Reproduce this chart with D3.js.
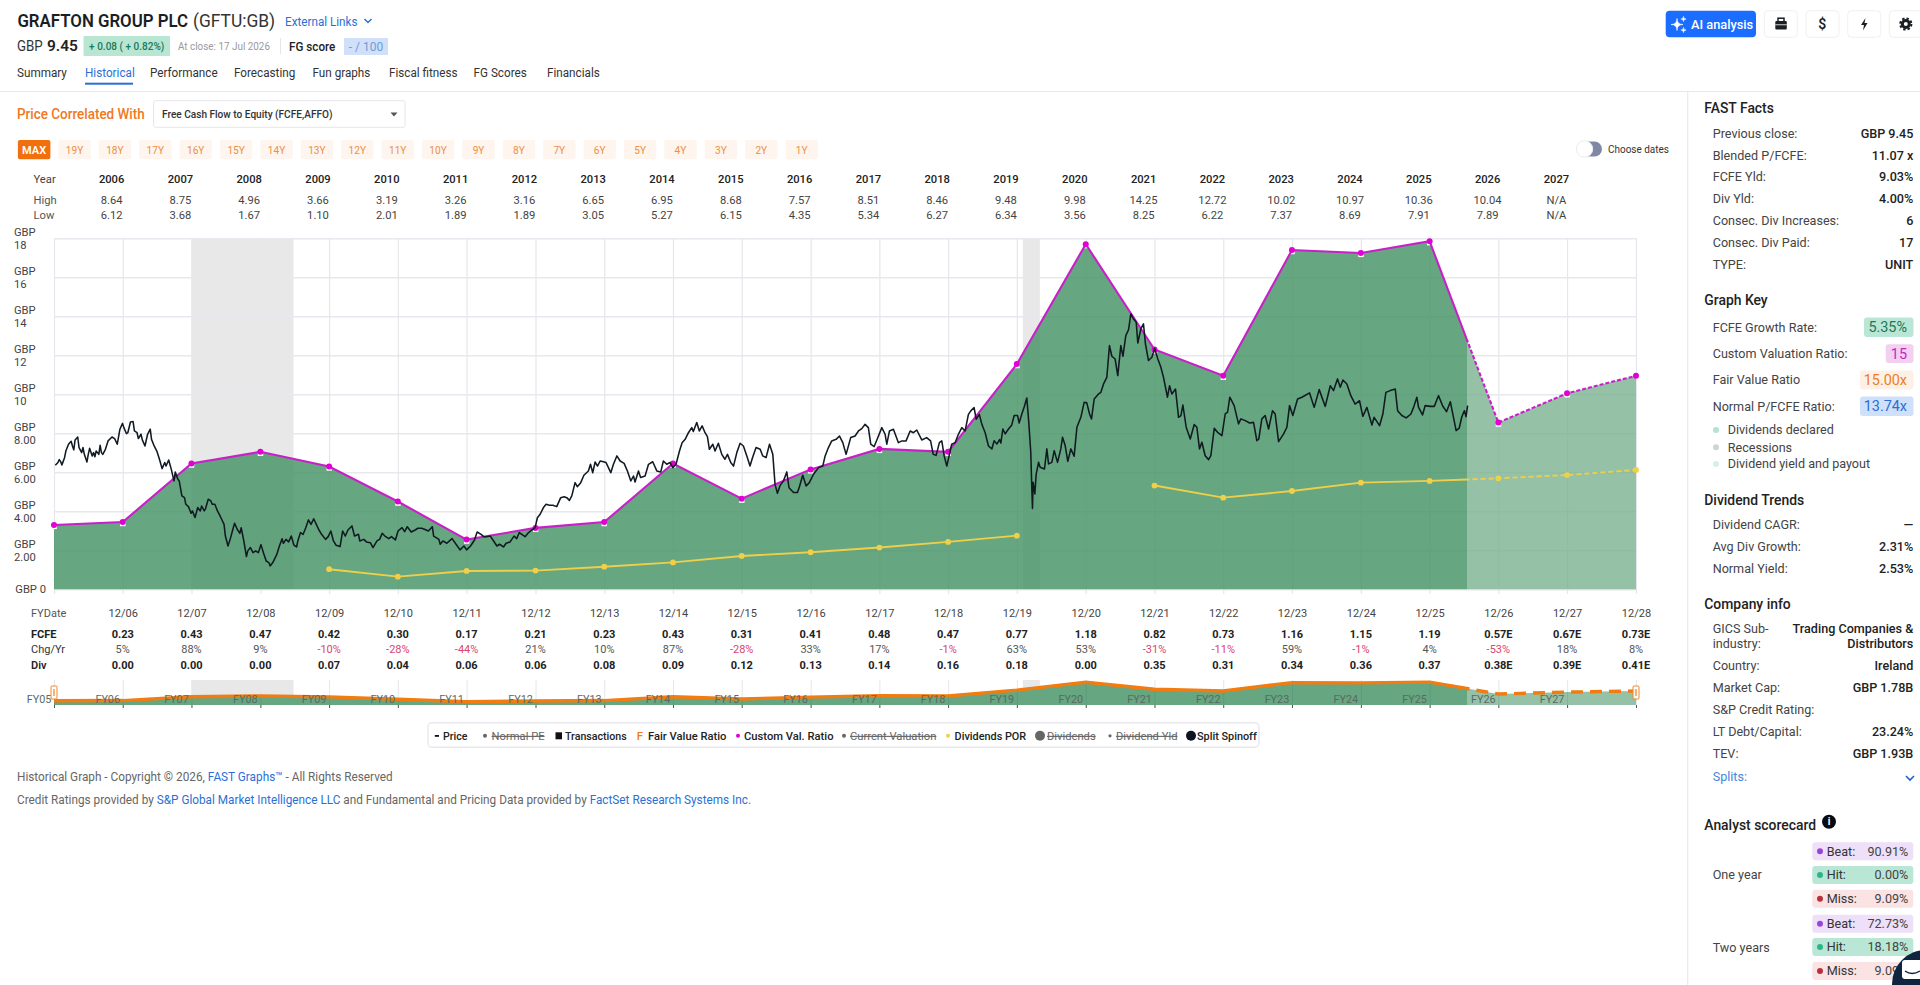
<!DOCTYPE html>
<html><head><meta charset="utf-8">
<script src="https://cdn.jsdelivr.net/npm/d3@7/dist/d3.min.js"></script>
<style>html,body{margin:0;padding:0;background:#fff;overflow:hidden}svg{display:block;font-family:Roboto,sans-serif}</style>
</head><body><svg id="c" width="1920" height="985"></svg>
<script>
// ---------- data ----------
const fyYears = d3.range(2005, 2029);
const customRatio = [3.3,3.45,6.45,7.05,6.3,4.5,2.55,3.15,3.45,6.45,4.65,6.15,7.2,7.05,11.55,17.7,12.3,10.95,17.4,17.25,17.85,8.55,10.05,10.95];
const dividendsPor = [null,null,null,null,1.03,0.65,0.94,0.96,1.16,1.38,1.71,1.90,2.14,2.43,2.75,null,5.32,4.70,5.04,5.47,5.56,5.69,5.86,6.12];
const fcfeLabels = ["0.23","0.43","0.47","0.42","0.30","0.17","0.21","0.23","0.43","0.31","0.41","0.48","0.47","0.77","1.18","0.82","0.73","1.16","1.15","1.19","0.57E","0.67E","0.73E"];
const chgLabels = [5,88,9,-10,-28,-44,21,10,87,-28,33,17,-1,63,53,-31,-11,59,-1,4,-53,18,8];
const divLabels = ["0.00","0.00","0.00","0.07","0.04","0.06","0.06","0.08","0.09","0.12","0.13","0.14","0.16","0.18","0.00","0.35","0.31","0.34","0.36","0.37","0.38E","0.39E","0.41E"];
const tableYears = d3.range(2006, 2028);
const highs = ["8.64","8.75","4.96","3.66","3.19","3.26","3.16","6.65","6.95","8.68","7.57","8.51","8.46","9.48","9.98","14.25","12.72","10.02","10.97","10.36","10.04","N/A"];
const lows = ["6.12","3.68","1.67","1.10","2.01","1.89","1.89","3.05","5.27","6.15","4.35","5.34","6.27","6.34","3.56","8.25","6.22","7.37","8.69","7.91","7.89","N/A"];
const yTicks = [2,4,6,8,10,12,14,16,18];
const yTickLabels = ["2.00","4.00","6.00","8.00","10","12","14","16","18"];
// price: weeks since 31 Dec 2005, and price in GBP
const priceWeeks = [1,3,4,5,6,8,9,11,13,14,15,16,18,19,21,22,23,25,26,27,29,30,31,32,34,35,36,37,39,41,44,46,48,50,52,53,55,56,58,60,61,63,64,66,67,69,71,73,74,76,78,80,82,84,85,87,89,91,92,94,95,97,99,100,102,104,105,107,109,111,112,114,115,117,119,120,122,124,126,129,130,132,134,136,137,139,141,142,144,146,147,149,151,153,155,157,159,161,163,164,166,169,171,173,174,176,178,180,182,184,185,187,189,191,193,195,197,199,201,203,206,208,210,212,214,217,219,221,223,226,228,231,232,235,237,240,242,245,247,249,251,254,256,259,261,264,266,268,271,274,276,279,281,284,287,288,292,293,295,298,300,302,305,308,311,313,316,319,321,324,326,328,331,333,336,338,341,343,346,349,351,353,
356,357.4,360,362.4,365,366.7,368.8,371.3,373.3,375.9,378.4,381.4,384.4,387,389,391,392.8,395.3,397,399.6,402,405.4,407,408.7,410.5,412.3,414.3,416.8,418.8,420.6,422.4,424.4,427,429.5,432.5,435,437.6,439.6,440.8,443.4,445,448.4,451,454.2,457.3,460.3,462.3,464.8,467.4,469.4,471.9,474.5,476.5,478.8,481.3,483.8,485,487.6,489.6,491.7,493.9,495.7,497.2,499.8,501.5,504,506.6,509,510.9,513.4,515.5,518,520.5,523,525.6,528,529.9,532.6,535.7,537.7,540.2,542.8,545.3,547,548.8,550.9,553.4,555.9,557.6,561,564,565.5,568,570.6,573,576.2,580,583.2,585,587.5,590,593.3,595.9,598.4,600.9,604.4,607.7,610.3,612.8,615.3,617.8,619.6,622.2,624.7,628,630.5,631.8,633.8,636.8,640.6,643.2,646.4,649.5,652,654.5,658.3,662,665,667,669.2,671.7,673.5,675.3,677.3,679.3,681,683.6,686.1,688.7,691.2,693.7,695.5,698,699.6,702,703.9,706.4,708.9,
711.5,713.2,715.3,717.3,718.3,719.8,721.6,724.1,726.6,728.4,731,732.2,734.2,736.2,738,739.5,741,741.8,742.3,742.8,744.1,745.1,746.9,748.1,751.4,753.2,754.5,757,758.8,761.3,763.8,765.1,767.1,769.1,771.4,773.9,776,779,781.5,783.5,785.6,787.1,789.1,792.4,794.2,796.2,798.7,800.7,802.5,805,807,809.3,810.9,813.1,815.2,816.9,819,821,822.2,824.5,826.5,828,830.3,832.9,834.9,837.4,839.7,841.7,844.7,846.3,848,850.8,853.1,854.9,856.4,858.9,862,865,867,869,870.8,873.3,875.9,877.6,880.2,882.7,886,888.5,890.3,892,895.3,898.6,900.4,903.7,907,910,912.5,914,916.3,918.8,921.4,924.4,926.4,929,932.8,935.3,937.3,939.8,943.4,946.7,952.5,956,959.8,964.4,968.2,970.7,973.7,975.8,977.8,980.8,983.8,987.1,990.4,992.9,996,999.8,1001.5,1005.6,1008.1,1010.4,1013.7,1017.5,1019.3,1022.5,1025.8,1029.4,1031.4,1033.9,1035.2,1038.2,1040.2,1044,1047.1,1050.3,1053.5,1056.4,1059.3,1061.3,1063.7,1066,1068,1070,1071.2,1072.4];
const priceValues = [6.36,6.50,6.65,6.55,6.38,6.75,7.09,7.44,7.59,7.35,7.15,7.66,7.81,7.27,7.01,7.27,6.92,6.53,6.92,7.23,6.84,7.01,6.80,7.09,6.92,7.38,7.01,6.92,7.18,7.61,7.81,7.73,7.44,8.21,8.51,8.29,7.98,8.03,8.58,8.60,8.12,8.03,7.73,7.95,7.66,7.35,7.95,8.21,7.69,7.35,7.09,6.67,6.19,6.50,6.32,6.63,6.15,5.56,6.02,5.64,5.56,4.79,4.70,4.36,4.24,3.90,4.02,3.68,4.19,4.02,4.27,4.02,4.14,4.62,4.53,4.36,4.36,4.02,3.76,3.33,2.73,2.22,2.65,3.16,3.39,3.08,2.87,3.16,2.48,1.68,1.97,2.14,1.88,1.97,1.88,2.29,1.85,1.45,1.37,1.20,1.37,1.79,2.22,2.59,2.36,2.56,2.43,2.73,2.27,2.17,2.48,2.91,2.82,3.16,3.56,3.33,3.62,3.33,3.04,2.82,2.56,2.70,2.99,2.48,2.26,2.19,2.99,2.73,3.04,3.25,2.73,2.82,2.48,2.56,2.43,2.39,2.14,2.48,2.56,2.87,2.73,2.60,2.70,2.53,2.99,3.16,2.96,3.21,2.94,3.04,3.13,3.13,3.08,2.99,3.21,2.73,2.56,2.31,2.48,2.36,2.48,2.60,2.31,2.02,2.22,2.02,2.22,2.53,2.94,2.82,2.70,2.70,2.73,2.53,2.22,2.31,2.17,2.36,2.43,2.73,2.60,2.91,
2.77,2.70,2.91,3.04,3.16,3.67,3.85,4.19,4.36,4.31,4.31,4.24,4.70,4.75,4.70,4.56,4.79,5.47,5.26,5.47,5.85,6.07,6.41,5.98,6.53,6.32,6.58,6.54,6.50,6.24,5.98,6.41,6.84,6.58,6.46,6.07,5.56,5.81,5.50,6.07,5.73,5.81,6.41,6.54,6.07,6.02,6.58,6.41,6.50,6.24,6.41,7.09,7.52,7.69,8.03,8.29,8.09,8.55,8.12,8.38,8.03,7.83,7.18,7.44,7.09,7.49,6.92,6.67,6.92,6.50,6.32,7.01,7.49,7.35,6.84,6.32,6.75,7.27,7.18,6.84,6.75,7.44,6.92,5.38,4.92,5.33,5.56,6.02,5.21,4.96,4.96,5.26,5.85,5.30,5.47,5.90,6.24,6.32,6.84,7.27,7.61,7.69,7.86,7.52,6.92,7.78,7.86,8.12,8.24,8.46,8.29,7.44,7.32,7.73,8.29,7.95,7.44,8.12,8.21,7.52,7.61,7.61,8.12,8.03,8.17,7.66,7.78,7.61,6.92,6.87,7.52,7.61,6.84,6.32,6.92,7.44,7.52,7.95,8.29,8.12,8.97,9.15,9.32,8.72,8.97,8.46,8.03,7.35,
7.20,7.62,7.45,7.68,7.50,8.22,7.97,8.22,8.43,8.91,8.91,8.53,8.99,9.39,9.81,8.56,7.03,5.15,4.15,5.49,4.89,5.91,6.51,6.26,6.17,7.20,6.43,6.51,7.11,6.51,7.20,7.80,7.37,6.56,7.20,6.82,8.31,8.82,9.59,9.56,8.99,8.74,9.76,10.02,10.10,10.53,10.87,12.50,11.95,11.81,10.96,12.50,11.95,13.01,13.32,14.12,13.86,13.69,12.63,13.35,13.61,12.58,11.73,11.90,12.36,11.81,11.39,10.87,9.85,10.44,10.02,10.27,8.82,8.91,9.45,8.31,7.71,8.45,8.31,7.20,7.54,6.85,6.65,6.85,8.26,8.05,7.88,8.99,9.08,9.85,9.42,8.48,8.74,8.65,8.53,8.56,7.62,7.71,8.74,8.91,8.22,9.16,8.99,7.57,7.97,8.31,9.42,8.91,9.76,9.85,10.07,9.33,10.24,9.38,10.44,10.19,10.79,10.36,10.73,10.53,9.93,9.50,9.67,8.87,9.33,8.43,8.82,8.39,8.99,10.10,10.19,10.27,9.16,8.91,8.79,8.99,9.33,9.85,9.33,8.94,9.42,9.38,9.38,9.93,9.40,9.11,9.62,8.94,8.14,8.26,8.85,9.16,8.85,9.42];
const factsRows = [["Previous close:","GBP 9.45"],["Blended P/FCFE:","11.07 x"],["FCFE Yld:","9.03%"],["Div Yld:","4.00%"],["Consec. Div Increases:","6"],["Consec. Div Paid:","17"],["TYPE:","UNIT"]];
const rangeButtons = d3.range(19,0,-1).map(d=>d+"Y");
const tabNames = [["Summary",17],["Historical",85],["Performance",150],["Forecasting",234],["Fun graphs",312.5],["Fiscal fitness",389],["FG Scores",473.6],["Financials",547]];

// ---------- helpers ----------
const svg = d3.select("#c");
const ff = "Roboto, sans-serif";
function T(x,y,s,o={}){
  const t = svg.append("text").attr("x",x).attr("y",y).attr("dy","0.35em").text(s)
    .attr("font-size",o.size||13).attr("fill",o.fill||"#333")
    .attr("font-weight",o.w||400).attr("text-anchor",o.a||"start");
  if(o.strike) t.attr("text-decoration","line-through");
  if(o.k) t.attr("transform",`translate(${x},0) scale(${o.k},1) translate(${-x},0)`);
  return t;
}
function R(x,y,w,h,f,o={}){
  return svg.append("rect").attr("x",x).attr("y",y).attr("width",w).attr("height",h)
   .attr("fill",f).attr("rx",o.r||0).attr("stroke",o.s||"none").attr("stroke-width",o.sw||1);
}
const fy = y => new Date(y,11,31);
const X = d3.scaleTime().domain([fy(2005),fy(2028)]).range([54,1636]);
const Y = d3.scaleLinear().domain([0,18]).range([589.3,238.3]);
const today = new Date(2026,6,17);
const base = fy(2005);
const weekDate = w => new Date(base.getTime()+w*7*864e5);

// ---------- header ----------
T(17.4,20.5,"GRAFTON GROUP PLC",{size:18.5,w:600,fill:"#1b1f24",k:.91});
T(193,20.5,"(GFTU:GB)",{size:18.5,fill:"#333",k:.94});
T(285,21,"External Links",{size:13,fill:"#2b6fd6",k:.9});
svg.append("path").attr("d","M364.5 19 l3.5 3.5 l3.5 -3.5").attr("fill","none").attr("stroke","#2b6fd6").attr("stroke-width",1.5);
T(17,46,"GBP",{size:14,fill:"#333",k:.95});
T(47,46,"9.45",{size:15.5,w:600,fill:"#222"});
R(83.5,36,86.5,20,"#b9e6d3",{r:1});
T(126.7,46,"+ 0.08 ( + 0.82%)",{size:11.8,fill:"#1a7a5a",a:"middle",w:500,k:.85});
T(178,46,"At close: 17 Jul 2026",{size:11.5,fill:"#9a9a9a",k:.86});
R(280,38,1,16,"#e6e6e6");
T(289,46,"FG score",{size:13,w:500,fill:"#222",k:.9});
R(344,38,44,17,"#cfe0f8",{r:1});
T(366,46.5,"- / 100",{size:13,fill:"#6f9bdb",a:"middle",k:.92});
tabNames.forEach(([n,x],i)=>T(x,72.7,n,{size:13,fill:i==1?"#2b6fd6":"#333",k:.9}));
R(85,82.7,48,2,"#2b6fd6");
R(0,91,1920,1,"#e9e9ec");

// top-right buttons
R(1665.7,10.7,90.3,26.6,"#1a6dff",{r:4});
const star=(cx,cy,r)=>`M${cx} ${cy-r}Q${cx} ${cy} ${cx+r} ${cy}Q${cx} ${cy} ${cx} ${cy+r}Q${cx} ${cy} ${cx-r} ${cy}Q${cx} ${cy} ${cx} ${cy-r}Z`;
svg.append("path").attr("d",star(1677,24.5,6)+star(1683.5,19,2.6)+star(1683.5,30,2.6)).attr("fill","#fff").attr("stroke","#fff").attr("stroke-width",.6);
T(1691,24.3,"AI analysis",{size:12.8,w:500,fill:"#fff"});
[1764.3,1806,1847.7,1889.3].forEach(x=>R(x,10.7,33,26.6,"#fff",{r:4,s:"#f0f0f2"}));
R(1775.3,21,11.5,8.5,"#1b1f24",{r:1}); R(1778,18.2,6,3.5,"none",{s:"#1b1f24",sw:1.5});R(1775.3,24.4,11.5,.8,"#fff");
T(1822.3,24.5,"$",{size:14,w:600,fill:"#1b1f24",a:"middle"});
svg.append("path").attr("d","M1865.5 18 l-4.5 7 h3 l-1 5.5 l4.5 -7.5 h-3 z").attr("fill","#1b1f24");
svg.append("circle").attr("cx",1905.8).attr("cy",24).attr("r",3.5).attr("fill","none").attr("stroke","#1b1f24").attr("stroke-width",3);
svg.append("circle").attr("cx",1905.8).attr("cy",24).attr("r",5.6).attr("fill","none").attr("stroke","#1b1f24").attr("stroke-width",2).attr("stroke-dasharray","2.4 2");

// selector row
T(17,114.3,"Price Correlated With",{size:14,w:500,fill:"#f0781e",k:.96});
R(153.6,100.7,251.4,26.6,"#fff",{r:2,s:"#e6e6ea"});
T(162,114.3,"Free Cash Flow to Equity (FCFE,AFFO)",{size:11.6,w:500,fill:"#333",k:.87});
svg.append("path").attr("d","M390.5 112.5h7l-3.5 4z").attr("fill","#555");

R(17.9,140,32.5,19.3,"#f26f0d",{r:2});
T(34.1,150,"MAX",{size:11,w:600,fill:"#fff",a:"middle"});
svg.selectAll(".rb").data(rangeButtons).join("g").attr("class","rb").each(function(d,i){
  const cx=74.5+40.4*i, g=d3.select(this);
  g.append("rect").attr("x",cx-16.2).attr("y",140).attr("width",32.4).attr("height",19.3).attr("rx",2).attr("fill","#fef5ee");
  g.append("text").attr("x",cx).attr("y",150).attr("dy","0.35em").attr("text-anchor","middle").attr("font-size",11).attr("fill","#ec8f47")
   .attr("transform",`translate(${cx},0) scale(.92,1) translate(${-cx},0)`).text(d);
});
R(1578,141.5,24,15,"#7f89a5",{r:7.5});
svg.append("circle").attr("cx",1584.5).attr("cy",149).attr("r",8.2).attr("fill","#fff").attr("stroke","#ececf0");
T(1608,149,"Choose dates",{size:11.6,fill:"#333",k:.86});

// High / low table
const tX = d3.scaleLinear().domain([2006,2027]).range([111.6,1556.4]);
T(33.5,178.7,"Year",{size:11.2,fill:"#444"});T(33.5,200,"High",{size:11.2,fill:"#555"});T(33.5,215,"Low",{size:11.2,fill:"#555"});
const tabRow=(arr,y,w,fill,xf)=>svg.append("g").selectAll("text").data(arr).join("text")
  .attr("x",(d,i)=>xf(i)).attr("y",y).attr("dy","0.35em").attr("text-anchor","middle")
  .attr("font-size",11.2).attr("font-weight",w).attr("fill",fill).text(d=>d);
tabRow(tableYears,178.7,500,"#222",i=>tX(2006+i));
tabRow(highs,200,400,"#444",i=>tX(2006+i));
tabRow(lows,215,400,"#444",i=>tX(2006+i));

// ---------- main chart ----------
const recessions=[[new Date(2007,11,31),new Date(2009,5,25)],[new Date(2020,1,1),new Date(2020,4,1)]];
svg.append("g").selectAll("rect").data(recessions).join("rect")
 .attr("x",d=>X(d[0])).attr("width",d=>X(d[1])-X(d[0])).attr("y",Y(18)).attr("height",Y(0)-Y(18)).attr("fill","#e8e8e9");

const gridY = svg.append("g").attr("transform","translate(54,0)").call(d3.axisLeft(Y).tickValues([0,...yTicks]).tickSize(-1582).tickFormat(""));
gridY.select(".domain").remove();
gridY.selectAll("line").attr("stroke","#e8e8ee").attr("stroke-width",1.4);
const gridX = svg.append("g").attr("transform","translate(0,594)").call(d3.axisBottom(X).tickValues(fyYears.map(fy)).tickSize(-355.7).tickFormat(""));
gridX.select(".domain").remove();
gridX.selectAll("line").attr("stroke","#e6e6ec").attr("stroke-width",1.2);

const pts = fyYears.map((y,i)=>({d:fy(y),v:customRatio[i],p:dividendsPor[i]}));
const area = d3.area().x(d=>X(d.d)).y0(Y(0)).y1(d=>Y(d.v));
const defs = svg.append("defs");
defs.append("clipPath").attr("id","past").append("rect").attr("x",0).attr("y",0).attr("width",X(today)).attr("height",985);
defs.append("clipPath").attr("id","fut").append("rect").attr("x",X(today)).attr("y",0).attr("width",1920).attr("height",985);
svg.append("path").datum(pts).attr("d",area).attr("fill","#fff").attr("fill-opacity",.62);
svg.append("path").datum(pts).attr("d",area).attr("fill","#006b2b").attr("fill-opacity",.6).attr("clip-path","url(#past)");
svg.append("path").datum(pts).attr("d",area).attr("fill","#006b2b").attr("fill-opacity",.415).attr("clip-path","url(#fut)");

// white squares under the custom ratio dots
svg.append("g").selectAll("rect").data(pts.slice(0,-1)).join("rect")
 .attr("x",d=>X(d.d)-2.6).attr("y",d=>Y(d.v)-1.2).attr("width",5.4).attr("height",5.4).attr("fill","#fff");

const line = d3.line().defined(d=>d.p!==null).x(d=>X(d.d)).y(d=>Y(d.p));
const magLine = d3.line().x(d=>X(d.d)).y(d=>Y(d.v));
svg.append("path").datum(pts).attr("d",line).attr("fill","none").attr("stroke","#eecf4c").attr("stroke-width",1.9).attr("clip-path","url(#past)");
svg.append("path").datum(pts).attr("d",line).attr("fill","none").attr("stroke","#eecf4c").attr("stroke-width",1.9).attr("stroke-dasharray","5 3").attr("clip-path","url(#fut)");
svg.append("g").selectAll("circle").data(pts.filter(d=>d.p!==null)).join("circle")
 .attr("cx",d=>X(d.d)).attr("cy",d=>Y(d.p)).attr("r",2.9).attr("fill","#f0d048");

svg.append("path").datum(pts).attr("d",magLine).attr("fill","none").attr("stroke","#c91fc9").attr("stroke-width",2.1).attr("clip-path","url(#past)");
svg.append("path").datum(pts).attr("d",magLine).attr("fill","none").attr("stroke","#c91fc9").attr("stroke-width",2.1).attr("stroke-dasharray","4 2").attr("clip-path","url(#fut)");
svg.append("g").selectAll("circle").data(pts).join("circle")
 .attr("cx",d=>X(d.d)).attr("cy",d=>Y(d.v)).attr("r",3).attr("fill","#e000d4");

const priceLine = d3.line().x((d,i)=>X(weekDate(priceWeeks[i]))).y(d=>Y(d)).curve(d3.curveLinear);
svg.append("path").datum(priceValues).attr("d",priceLine).attr("fill","none").attr("stroke","#111a22").attr("stroke-width",1.55).attr("stroke-linejoin","round");

// y labels
yTicks.forEach((v,i)=>{
  T(14,Y(v)-6.3,"GBP",{size:11.2,fill:"#444"});
  T(14,Y(v)+6.7,yTickLabels[i],{size:11.2,fill:"#444"});
});
T(46,589.3,"GBP 0",{size:11.2,fill:"#444",a:"end"});

// ---------- bottom rows ----------
const fcYears = fyYears.slice(1);
T(31,613,"FYDate",{size:11,fill:"#555"});T(31,634.3,"FCFE",{size:11,w:700,fill:"#222"});T(31,649.3,"Chg/Yr",{size:11,fill:"#333"});T(31,664.7,"Div",{size:11,w:600,fill:"#222"});
const axisF = svg.append("g").attr("transform","translate(0,613)").call(d3.axisBottom(X).tickValues(fcYears.map(fy)).tickSize(0).tickFormat(d3.timeFormat("%m/%y")));
axisF.select(".domain").remove();
axisF.selectAll("text").attr("y",0).attr("dy","0.35em").attr("font-size",11).attr("font-family",ff).attr("fill","#444");
const bX = i=>X(fy(fcYears[i]));
tabRow(fcfeLabels,634.3,700,"#222",bX).attr("font-size",11);
svg.append("g").selectAll("text").data(chgLabels).join("text").attr("x",(d,i)=>bX(i)).attr("y",649.3).attr("dy","0.35em").attr("text-anchor","middle")
 .attr("font-size",11).attr("fill",d=>d<0?"#d9456f":"#555").text(d=>d+"%");
tabRow(divLabels,664.7,700,"#222",bX).attr("font-size",11);

// ---------- mini navigator ----------
const YM = d3.scaleLinear().domain([0,18]).range([705,681.9]);
svg.append("g").selectAll("rect").data(recessions).join("rect")
 .attr("x",d=>X(d[0])).attr("width",d=>X(d[1])-X(d[0])).attr("y",680).attr("height",(d,i)=>i?8:16).attr("fill","#e8e8e9");
const miniGrid = svg.append("g").attr("transform","translate(0,708)").call(d3.axisBottom(X).tickValues(fyYears.map(fy)).tickSize(-28).tickFormat(""));
miniGrid.select(".domain").remove();miniGrid.selectAll("line").attr("stroke","#e6e6ec");
svg.append("g").attr("transform","translate(0,705)").call(d3.axisBottom(X).tickValues(fyYears.map(fy)).tickSize(3).tickFormat("")).call(g=>g.select(".domain").remove()).selectAll("line").attr("stroke","#555");
const miniArea = d3.area().x(d=>X(d.d)).y0(YM(0)).y1(d=>YM(d.v));
const miniLine = d3.line().x(d=>X(d.d)).y(d=>YM(d.v));
svg.append("path").datum(pts).attr("d",miniArea).attr("fill","#006b2b").attr("fill-opacity",.6).attr("clip-path","url(#past)");
svg.append("path").datum(pts).attr("d",miniArea).attr("fill","#006b2b").attr("fill-opacity",.415).attr("clip-path","url(#fut)");
svg.append("path").datum(pts).attr("d",miniLine).attr("fill","none").attr("stroke","#f07c12").attr("stroke-width",3.4).attr("clip-path","url(#past)");
svg.append("path").datum(pts).attr("d",miniLine).attr("fill","none").attr("stroke","#f07c12").attr("stroke-width",3.4).attr("stroke-dasharray","12 7").attr("clip-path","url(#fut)");
svg.append("g").selectAll("text").data(d3.range(2005,2028)).join("text")
 .attr("x",d=>X(fy(d))-15).attr("y",699).attr("dy","0.35em").attr("text-anchor","middle").attr("font-size",10.8).attr("fill","#5a6a62")
 .text(d=>"FY"+String(d).slice(2));
[54,1636].forEach(x=>{R(x-3,686,6,13,"#fff",{s:"#f0882a",sw:1,r:1}).attr("fill-opacity",.85);R(x-1,689,2,7,"#f5b27a");});

// ---------- legend ----------
R(428,722.7,831,24.6,"#fff",{r:4,s:"#e8e8ee",sw:1.4});
const lg=735.8;
R(434.8,lg-.8,4.2,1.8,"#111");T(443,lg,"Price",{size:11.4,w:500,fill:"#222",k:.93});
svg.append("circle").attr("cx",485).attr("cy",lg).attr("r",2).attr("fill","#666");T(491.6,lg,"Normal PE",{size:11.2,fill:"#666",strike:1});
R(555.5,lg-3.5,6.5,7,"#111");T(565,lg,"Transactions",{size:11.2,w:500,fill:"#222",k:.95});
T(640,lg,"F",{size:11.4,w:500,fill:"#f07c12",a:"middle"});T(648,lg,"Fair Value Ratio",{size:11.2,w:500,fill:"#222"});
svg.append("circle").attr("cx",738).attr("cy",lg).attr("r",2).attr("fill","#e000d4");T(744,lg,"Custom Val. Ratio",{size:11.2,w:500,fill:"#222"});
svg.append("circle").attr("cx",844).attr("cy",lg).attr("r",2).attr("fill","#666");T(850,lg,"Current Valuation",{size:11.2,fill:"#666",strike:1});
svg.append("circle").attr("cx",948).attr("cy",lg).attr("r",2).attr("fill","#f0d048");T(954.6,lg,"Dividends POR",{size:11.2,w:500,fill:"#222",k:.97});
svg.append("circle").attr("cx",1040).attr("cy",lg).attr("r",5).attr("fill","#666");T(1047,lg,"Dividends",{size:11.2,fill:"#666",strike:1});
svg.append("circle").attr("cx",1110).attr("cy",lg).attr("r",1.6).attr("fill","#666");T(1116,lg,"Dividend Yld",{size:11.2,fill:"#666",strike:1});
svg.append("circle").attr("cx",1191).attr("cy",lg).attr("r",5).attr("fill","#0d1420");T(1197,lg,"Split Spinoff",{size:11.2,w:500,fill:"#222",k:.97});

// ---------- footer ----------
const f1=T(17,776.7,"",{size:12.2,fill:"#666",k:.967});
f1.append("tspan").text("Historical Graph - Copyright © 2026, ");
f1.append("tspan").attr("fill","#2b6fd6").text("FAST Graphs™");
f1.append("tspan").text(" - All Rights Reserved");
const f2=T(17,800,"",{size:12.2,fill:"#666",k:.966});
f2.append("tspan").text("Credit Ratings provided by ");
f2.append("tspan").attr("fill","#2b6fd6").text("S&P Global Market Intelligence LLC");
f2.append("tspan").text(" and Fundamental and Pricing Data provided by ");
f2.append("tspan").attr("fill","#2b6fd6").text("FactSet Research Systems Inc.");

// ---------- sidebar ----------
R(1687,92,1.3,893,"#ececef");
const sx=1712.7, rx=1913.3, hx=1704.3;
const Hd=(y,s)=>T(hx,y,s,{size:13.9,w:500,fill:"#222"});
const Row=(y,a,b)=>{T(sx,y,a,{size:12.6,fill:"#444"});if(b)T(rx,y,b,{size:12.6,w:500,fill:"#222",a:"end"});};
Hd(108.3,"FAST Facts");
const factsY=[133.3,155.3,177,199,221,242.7,264.3];
factsRows.forEach((r,i)=>Row(factsY[i],r[0],r[1]));
Hd(300.3,"Graph Key");
const Badge=(y,h,lx,label,val,fill,col)=>{
  T(sx,y,label,{size:12.6,fill:"#444"});
  R(lx,y-h/2,1913.5-lx,h,fill,{r:3});
  T(1907,y,val,{size:14.4,fill:col,a:"end"});
};
Badge(327.3,19.4,1864,"FCFE Growth Rate:","5.35%","#b9e6d5","#1a7a5a");
Badge(353.7,18.8,1885.7,"Custom Valuation Ratio:","15","#f3cff0","#c81fc8");
Badge(380,19,1860,"Fair Value Ratio","15.00x","#fdf1e7","#ef7c22");
Badge(406.3,19.4,1860,"Normal P/FCFE Ratio:","13.74x","#cfe0fb","#2b6fd6");
[[430,"Dividends declared","#b5e3d2"],[447.3,"Recessions","#cfd2d6"],[464,"Dividend yield and payout","#d6f0e6"]].forEach(([y,s,c])=>{
  svg.append("circle").attr("cx",1716).attr("cy",y).attr("r",3).attr("fill",c);
  T(1727.7,y,s,{size:12.6,fill:"#444"});
});
Hd(499.7,"Dividend Trends");
Row(524.7,"Dividend CAGR:","—");Row(546.7,"Avg Div Growth:","2.31%");Row(568.3,"Normal Yield:","2.53%");
Hd(604.3,"Company info");
Row(629,"GICS Sub-","Trading Companies &");Row(644,"industry:","Distributors");
Row(666,"Country:","Ireland");Row(687.7,"Market Cap:","GBP 1.78B");Row(709.7,"S&P Credit Rating:");Row(731.3,"LT Debt/Capital:","23.24%");Row(753.3,"TEV:","GBP 1.93B");
T(sx,777,"Splits:",{size:12.6,fill:"#4a86e0"});
svg.append("path").attr("d","M1906 776 l4 4 l4 -4").attr("fill","none").attr("stroke","#2060c8").attr("stroke-width",1.6);
Hd(825,"Analyst scorecard");
svg.append("circle").attr("cx",1829).attr("cy",821.7).attr("r",7).attr("fill","#0a0a14");
T(1829,821.7,"i",{size:10,w:700,fill:"#fff",a:"middle"});
T(sx,875,"One year",{size:12.6,fill:"#444"});T(sx,947.3,"Two years",{size:12.6,fill:"#444"});
[[842.3,"Beat:","90.91%",0],[866,"Hit:","0.00%",1],[889.7,"Miss:","9.09%",2],[914.7,"Beat:","72.73%",0],[938,"Hit:","18.18%",1],[962,"Miss:","9.09%",2]].forEach(([y,a,b,k])=>{
  R(1812.3,y,101,18,["#eee0f8","#b9e6d5","#fbe3e3"][k],{r:3});
  svg.append("circle").attr("cx",1820).attr("cy",y+9).attr("r",3).attr("fill",["#9b45d8","#2bb58a","#b5323c"][k]);
  T(1826.7,y+9,a,{size:12.6,fill:"#333"});
  T(1908.3,y+9,b,{size:12.6,fill:"#444",a:"end"});
});
// chat bubble
svg.append("circle").attr("cx",1926).attr("cy",984).attr("r",34).attr("fill","#10233f");
R(1902,960,24,19,"#fff",{r:3});
svg.append("path").attr("d","M1905 971 q7 5 15 0").attr("fill","none").attr("stroke","#10233f").attr("stroke-width",1.4);
</script></body></html>
